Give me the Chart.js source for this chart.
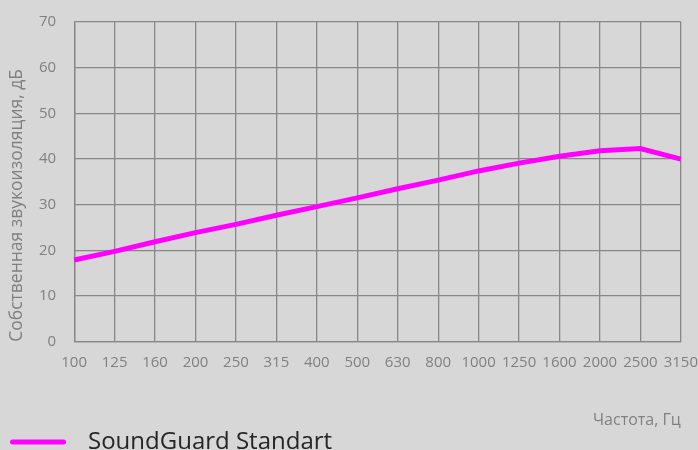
<!DOCTYPE html>
<html>
    <head>
        <meta name="viewport" content="width=device-width, initial-scale=1.0">
        <script src="https://cdn.jsdelivr.net/npm/chart.js"></script>
        <style>
            html, body {
                margin: 0;
                padding: 0;
                overflow: hidden;
                background-color: #d7d7d7;
            }
            #wrap {
                width: 698px;
                height: 464px;
            }
        </style>
    </head>
    <body>
        <div id="wrap"><canvas id="chart"></canvas></div>

        <script>
            // frequencies, Hz
            const frequencies = ['100', '125', '160', '200', '250', '315', '400', '500', '630', '800', '1000', '1250', '1600', '2000', '2500', '3150'];
            // sound insulation, dB
            const insulation = [17.9, 19.8, 21.9, 23.9, 25.7, 27.7, 29.6, 31.5, 33.5, 35.4, 37.4, 39.1, 40.6, 41.8, 42.3, 40.0];
            const seriesName = 'SoundGuard Standart';
            const yTicks = [0, 10, 20, 30, 40, 50, 60, 70];

            const gridColor = '#878787';
            const textColor = '#808080';
            const lineColor = '#ff00ff';

            // legend marker: rounded line with some space after it
            const legendMark = document.createElement('canvas');
            legendMark.width = 69;
            legendMark.height = 10;
            const mctx = legendMark.getContext('2d');
            mctx.strokeStyle = lineColor;
            mctx.lineWidth = 5;
            mctx.lineCap = 'round';
            mctx.beginPath();
            mctx.moveTo(5.5, 5);
            mctx.lineTo(56.5, 5);
            mctx.stroke();

            // fill canvas background
            const bgPlugin = {
                id: 'bg',
                beforeDraw(chart) {
                    const ctx = chart.ctx;
                    ctx.save();
                    ctx.fillStyle = '#d7d7d7';
                    ctx.fillRect(0, 0, chart.width, chart.height);
                    ctx.restore();
                }
            };

            new Chart(document.getElementById('chart'), {
                type: 'line',
                data: {
                    labels: frequencies,
                    datasets: [{
                        label: seriesName,
                        data: insulation,
                        borderColor: lineColor,
                        backgroundColor: lineColor,
                        borderWidth: 5,
                        pointRadius: 0,
                        tension: 0
                    }]
                },
                options: {
                    responsive: true,
                    maintainAspectRatio: false,
                    animation: false,
                    layout: { padding: { left: 7, right: 2, top: 22, bottom: 0 } },
                    plugins: {
                        tooltip: { enabled: false },
                        legend: {
                            position: 'bottom',
                            align: 'start',
                            labels: {
                                usePointStyle: true,
                                pointStyle: legendMark,
                                pointStyleWidth: 69,
                                color: '#262626',
                                font: { family: 'Open Sans', size: 24 },
                                padding: 0
                            }
                        }
                    },
                    scales: {
                        x: {
                            offset: false,
                            // invisible tick marks give the gap under the axis
                            grid: { color: gridColor, lineWidth: 1.3, drawTicks: true, tickLength: 12, tickColor: 'transparent' },
                            border: { color: gridColor, width: 1.3 },
                            ticks: {
                                color: textColor,
                                font: { family: 'Open Sans', size: 15 },
                                autoSkip: false,
                                maxRotation: 0,
                                padding: 0
                            },
                            title: {
                                display: true,
                                text: 'Частота, Гц',
                                align: 'end',
                                color: textColor,
                                font: { family: 'Open Sans', size: 16 },
                                padding: { top: 39, bottom: 0 }
                            }
                        },
                        y: {
                            min: 0,
                            max: 70,
                            afterBuildTicks(axis) {
                                axis.ticks = yTicks.map(v => ({ value: v }));
                            },
                            grid: { color: gridColor, lineWidth: 1.3, drawTicks: true, tickLength: 18, tickColor: 'transparent' },
                            border: { color: gridColor, width: 1.3 },
                            ticks: {
                                color: textColor,
                                font: { family: 'Open Sans', size: 15 },
                                padding: 0
                            },
                            title: {
                                display: true,
                                text: 'Собственная звукоизоляция, дБ',
                                align: 'start',
                                color: textColor,
                                font: { family: 'Open Sans', size: 17.5 },
                                padding: { top: 0, bottom: 11 }
                            }
                        }
                    }
                },
                plugins: [bgPlugin]
            });
        </script>
    </body>
</html>
